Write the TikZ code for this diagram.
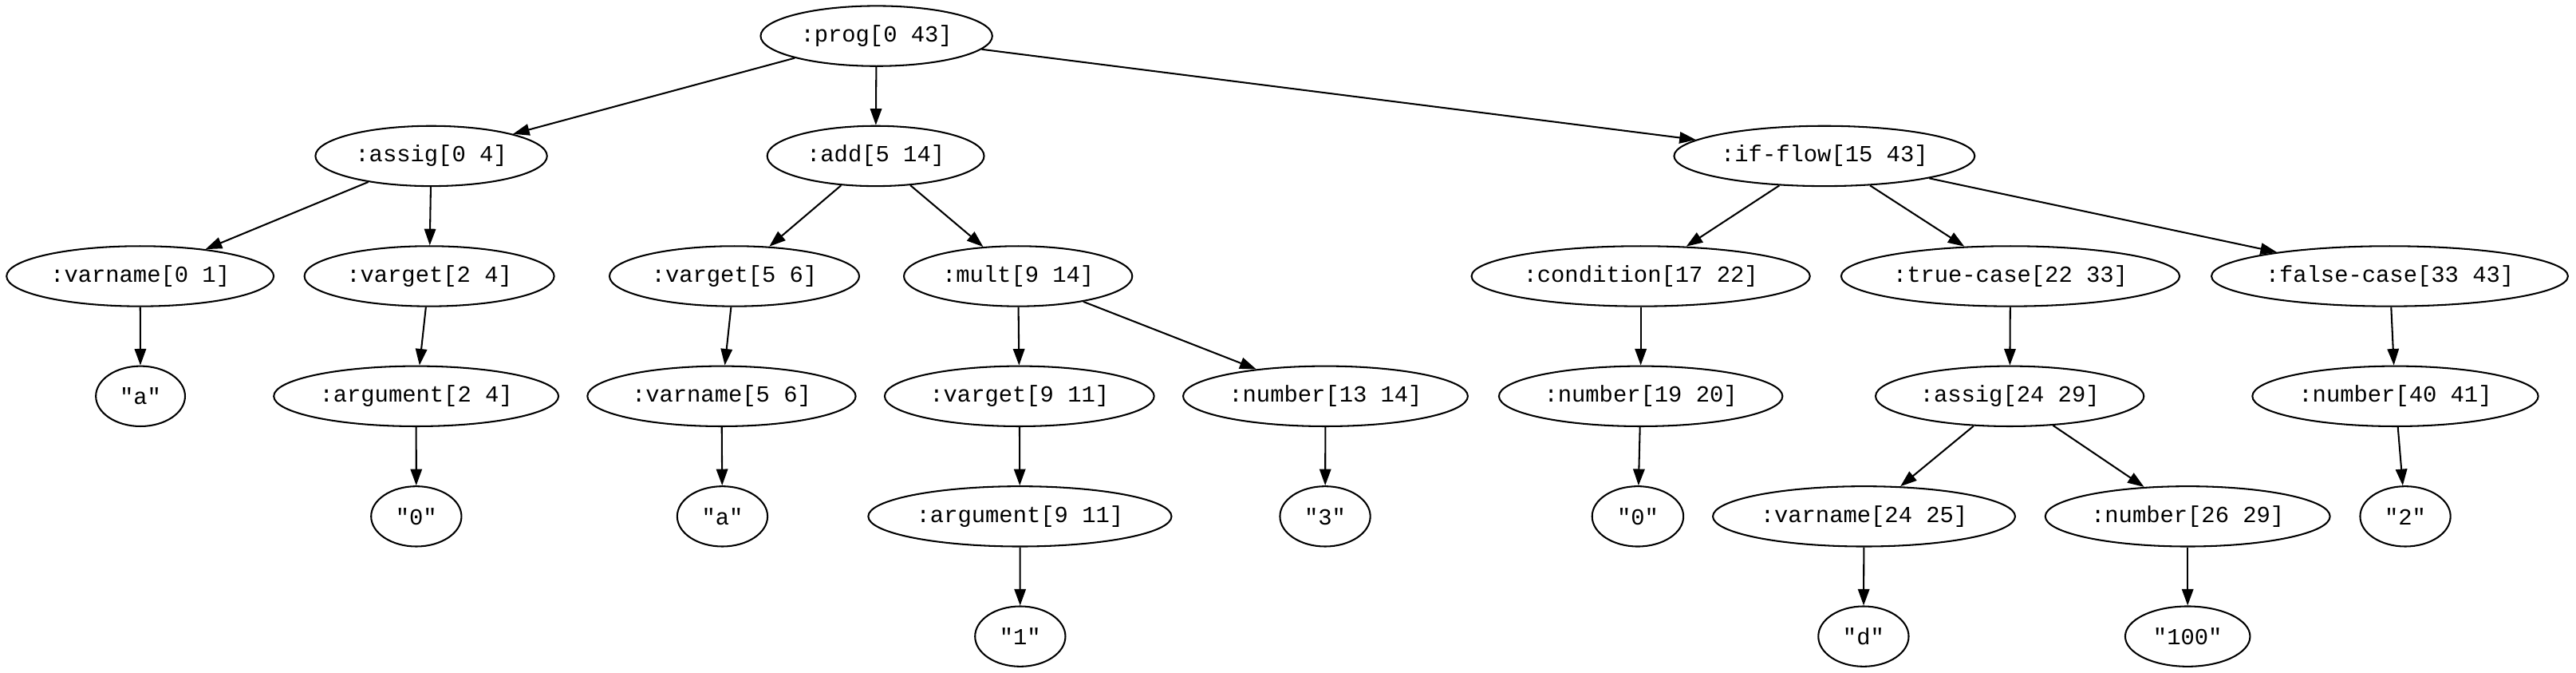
\documentclass[tikz,border=0pt]{standalone}
\usepackage{fontspec}
\newfontfamily\gvfont{Liberation Mono}
\usetikzlibrary{shapes.geometric,arrows.meta}
\tikzset{
  gv/.style={ellipse, draw=black, line width=1pt, inner sep=0pt, minimum height=36.6pt,
    font=\gvfont\fontsize{14pt}{16pt}\selectfont, text=black},
  edge/.style={draw=black, line width=1pt, -{Triangle[length=10pt,width=7pt]}}
}
\begin{document}
\begin{tikzpicture}[x=1pt,y=1pt]
\useasboundingbox (0,0) rectangle (1568,-409);
% row 1
\node[gv, minimum width=141pt] (prog) at (533.5,-21.9) {:prog[0 43]};
% row 2
\node[gv, minimum width=141pt] (assigA) at (262.5,-94.9) {:assig[0 4]};
\node[gv, minimum width=132pt] (add) at (533,-94.9) {:add[5 14]};
\node[gv, minimum width=183pt] (ifflow) at (1110.5,-94.9) {:if-flow[15 43]};
% row 3
\node[gv, minimum width=162.6pt] (varnameA) at (85.3,-168) {:varname[0 1]};
\node[gv, minimum width=152pt] (vargetA) at (261.3,-168) {:varget[2 4]};
\node[gv, minimum width=152pt] (vargetB) at (447,-168) {:varget[5 6]};
\node[gv, minimum width=139pt] (mult) at (619.7,-168) {:mult[9 14]};
\node[gv, minimum width=206pt] (cond) at (998.7,-168) {:condition[17 22]};
\node[gv, minimum width=206pt] (truec) at (1223.7,-168) {:true-case[22 33]};
\node[gv, minimum width=217pt] (falsec) at (1454.6,-168) {:false-case[33 43]};
% row 4
\node[gv, minimum width=54.3pt] (sa1) at (85.5,-241) {"a"};
\node[gv, minimum width=173.3pt] (argA) at (253.3,-241) {:argument[2 4]};
\node[gv, minimum width=163.3pt] (varnameB) at (439.2,-241) {:varname[5 6]};
\node[gv, minimum width=164pt] (vargetC) at (620.5,-241) {:varget[9 11]};
\node[gv, minimum width=173.3pt] (numA) at (806.8,-241) {:number[13 14]};
\node[gv, minimum width=172.6pt] (numB) at (998.7,-241) {:number[19 20]};
\node[gv, minimum width=163.3pt] (assigB) at (1223.3,-241) {:assig[24 29]};
\node[gv, minimum width=174pt] (numE) at (1458,-241) {:number[40 41]};
% row 5
\node[gv, minimum width=55pt] (s0a) at (253.4,-314.1) {"0"};
\node[gv, minimum width=55pt] (sa2) at (439.7,-314.1) {"a"};
\node[gv, minimum width=184.6pt] (argB) at (620.8,-314.1) {:argument[9 11]};
\node[gv, minimum width=55pt] (s3) at (806.6,-314.1) {"3"};
\node[gv, minimum width=55.6pt] (s0b) at (996.9,-314.1) {"0"};
\node[gv, minimum width=184pt] (varnameC) at (1134.6,-314.1) {:varname[24 25]};
\node[gv, minimum width=173.3pt] (numC) at (1331.6,-314.1) {:number[26 29]};
\node[gv, minimum width=55pt] (s2) at (1464.1,-314.1) {"2"};
% row 6
\node[gv, minimum width=55pt] (s1) at (621,-387.1) {"1"};
\node[gv, minimum width=55pt] (sd) at (1134.3,-387.1) {"d"};
\node[gv, minimum width=76pt] (s100) at (1331.6,-387.1) {"100"};
% edges
\draw[edge] (prog) -- (assigA);
\draw[edge] (prog) -- (add);
\draw[edge] (prog) -- (ifflow);
\draw[edge] (assigA) -- (varnameA);
\draw[edge] (assigA) -- (vargetA);
\draw[edge] (varnameA) -- (sa1);
\draw[edge] (vargetA) -- (argA);
\draw[edge] (argA) -- (s0a);
\draw[edge] (add) -- (vargetB);
\draw[edge] (add) -- (mult);
\draw[edge] (vargetB) -- (varnameB);
\draw[edge] (varnameB) -- (sa2);
\draw[edge] (mult) -- (vargetC);
\draw[edge] (mult) -- (numA);
\draw[edge] (vargetC) -- (argB);
\draw[edge] (argB) -- (s1);
\draw[edge] (numA) -- (s3);
\draw[edge] (ifflow) -- (cond);
\draw[edge] (ifflow) -- (truec);
\draw[edge] (ifflow) -- (falsec);
\draw[edge] (cond) -- (numB);
\draw[edge] (numB) -- (s0b);
\draw[edge] (truec) -- (assigB);
\draw[edge] (assigB) -- (varnameC);
\draw[edge] (assigB) -- (numC);
\draw[edge] (varnameC) -- (sd);
\draw[edge] (numC) -- (s100);
\draw[edge] (falsec) -- (numE);
\draw[edge] (numE) -- (s2);
\end{tikzpicture}
\end{document}
